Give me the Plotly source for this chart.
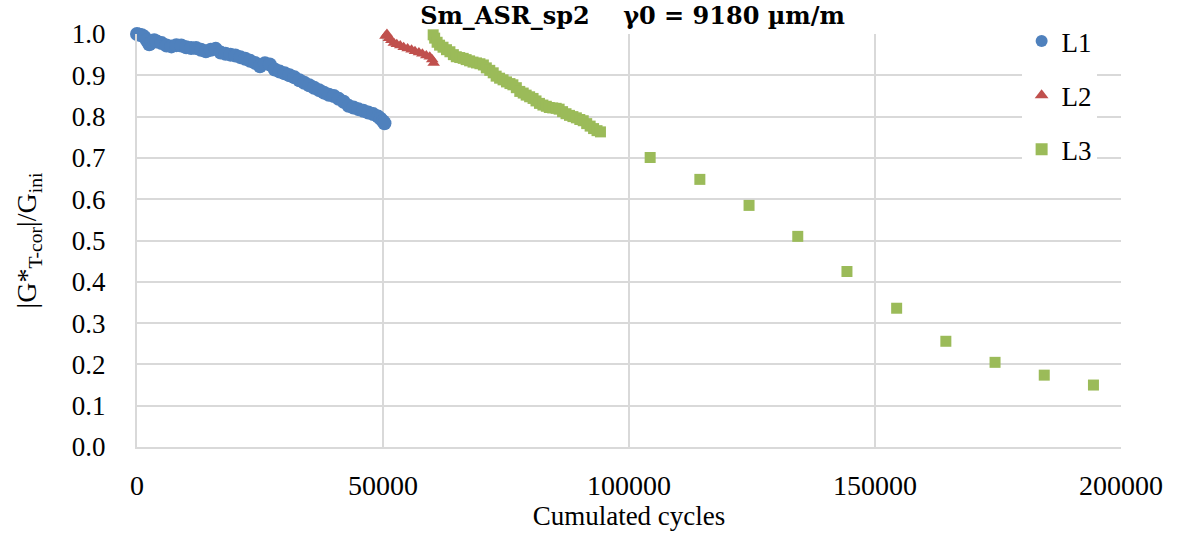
import plotly.graph_objects as go

# ---- data ----
L1_x = [0, 500, 1000, 1500, 2000, 2500, 3000, 3500, 4000,
        5000, 6000, 7000, 8000, 9000, 10000, 11000, 12000, 13000, 14000,
        15000, 16000, 17000, 18000, 19000, 20000, 21000, 22000, 23000, 24000,
        25000, 26000, 27000, 28000, 29000, 30000, 31000, 32000, 33000, 34000,
        35000, 36000, 37000, 38000, 39000, 40000, 41000, 42000, 43000, 44000,
        45000, 46000, 47000, 48000, 49000, 49500, 50000, 50300]
L1_y = [1.000, 0.998, 0.997, 0.993, 0.985, 0.975, 0.980, 0.985, 0.982,
        0.978, 0.972, 0.970, 0.973, 0.972, 0.968, 0.966, 0.966, 0.962, 0.958,
        0.962, 0.964, 0.955, 0.952, 0.950, 0.948, 0.944, 0.940, 0.935, 0.930,
        0.922, 0.929, 0.926, 0.914, 0.909, 0.905, 0.900, 0.895, 0.888, 0.882,
        0.876, 0.870, 0.864, 0.858, 0.853, 0.850, 0.843, 0.836, 0.826, 0.822,
        0.818, 0.814, 0.810, 0.806, 0.800, 0.795, 0.789, 0.784]

L2_x = [50500, 50800, 51200, 51700, 52200, 52800, 53500, 54200, 55000,
        55800, 56500, 57300, 58000, 58800, 59500, 60000, 60300]
L2_y = [0.995, 1.000, 0.990, 0.985, 0.978, 0.975, 0.972, 0.968, 0.965,
        0.962, 0.958, 0.955, 0.952, 0.948, 0.945, 0.938, 0.930]

L3_x = [60200, 60500, 61000, 61500, 62200, 62900, 63600, 64300, 64900, 65600,
        66300, 66900, 67600, 68300, 69000, 69700, 70400, 71000, 71700, 72400,
        73000, 73700, 74400, 75100, 75800, 76400, 77100, 77800, 78500, 79100,
        79800, 80500, 81100, 81800, 82500, 83200, 83800, 84500, 85200, 85800,
        86500, 87200, 87900, 88600, 89300, 90000, 90700, 91400, 92100, 92800,
        93500, 94200,
        104300, 114400, 124400, 134300, 144300, 154400, 164400, 174400, 184400, 194400]
L3_y = [0.998, 0.990, 0.980, 0.973, 0.968, 0.962, 0.957, 0.950, 0.945, 0.943,
        0.941, 0.938, 0.935, 0.932, 0.930, 0.928, 0.925, 0.918, 0.912, 0.906,
        0.898, 0.893, 0.889, 0.884, 0.880, 0.877, 0.870, 0.861, 0.857, 0.852,
        0.848, 0.844, 0.838, 0.832, 0.828, 0.825, 0.822, 0.821, 0.820, 0.818,
        0.812, 0.807, 0.803, 0.800, 0.797, 0.793, 0.790, 0.783, 0.777, 0.771,
        0.766, 0.763,
        0.701, 0.648, 0.585, 0.510, 0.425, 0.336, 0.256, 0.205, 0.174, 0.150]

series_names = ["L1", "L2", "L3"]
x_ticks = [0, 50000, 100000, 150000, 200000]
y_ticks = [0.0, 0.1, 0.2, 0.3, 0.4, 0.5, 0.6, 0.7, 0.8, 0.9, 1.0]

FONT = "Liberation Serif"
TITLE_FONT = "DejaVu Serif"
GRID = "#d9d9d9"

fig = go.Figure()
fig.add_trace(go.Scatter(x=L1_x, y=L1_y, mode="markers", name=series_names[0],
                         legendgroup="a", cliponaxis=False,
                         marker=dict(symbol="circle", size=14, color="#4F81BD")))
fig.add_trace(go.Scatter(x=L2_x, y=L2_y, mode="markers", name=series_names[1],
                         legendgroup="b", cliponaxis=False,
                         marker=dict(symbol="triangle-up", size=11, color="#C0504D")))
fig.add_trace(go.Scatter(x=L3_x, y=L3_y, mode="markers", name=series_names[2],
                         legendgroup="c", cliponaxis=False,
                         marker=dict(symbol="square", size=11, color="#9BBB59")))

fig.update_layout(
    width=1180, height=535,
    margin=dict(l=137, r=59, t=34, b=88, autoexpand=False),
    paper_bgcolor="white", plot_bgcolor="white",
    font=dict(family=FONT, size=26, color="black"),
    title=dict(text="Sm_ASR_sp2\u00a0\u00a0\u00a0 γ0 = 9180 µm/m",
               x=0.536, xanchor="center", y=0.97, yanchor="middle",
               font=dict(family=TITLE_FONT, size=24, color="black", weight=700)),
    legend=dict(x=0.899, xanchor="left", y=1.041, yanchor="top",
                bgcolor="white", borderwidth=0, tracegroupgap=16,
                itemsizing="constant",
                font=dict(family=FONT, size=27, color="black")),
    showlegend=True,
)
fig.update_xaxes(range=[0, 200000], tickvals=x_ticks, tickformat="d",
                 automargin=False,
                 showgrid=True, gridcolor=GRID, gridwidth=2,
                 showline=True, linecolor=GRID, linewidth=2,
                 zeroline=False, ticks="", ticklabelstandoff=12,
                 tickfont=dict(family=FONT, size=28),
                 title=dict(text="Cumulated cycles", standoff=0,
                            font=dict(family=FONT, size=27)))
fig.update_yaxes(range=[0, 1.0], tickvals=y_ticks, tickformat=".1f",
                 automargin=False,
                 showgrid=True, gridcolor=GRID, gridwidth=2,
                 showline=True, linecolor=GRID, linewidth=2,
                 zeroline=False, ticks="", ticklabelstandoff=24,
                 tickfont=dict(family=FONT, size=27),
                 title=dict(text="|G*<sub>T-cor</sub>|/G<sub>ini</sub>", standoff=27,
                            font=dict(family=FONT, size=28)))

fig.write_html("out.html", config={"displayModeBar": False},
               post_script="document.body.style.margin='0';")
